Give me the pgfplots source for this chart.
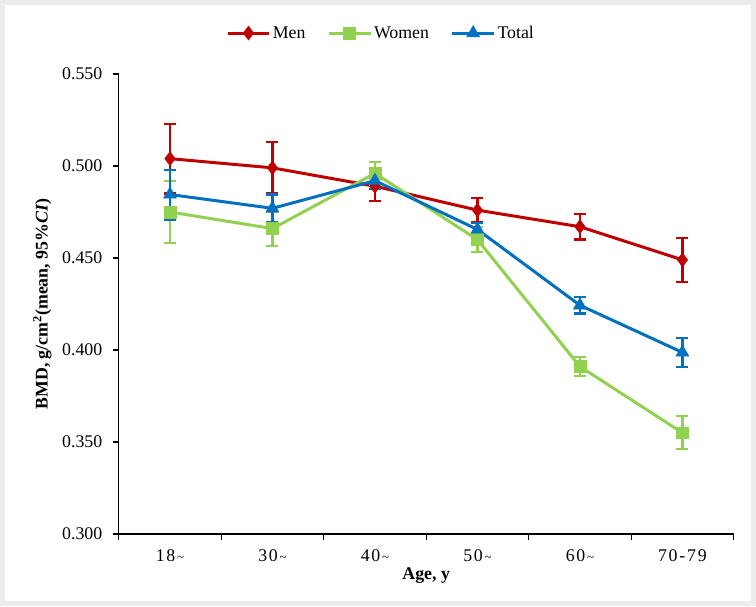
\documentclass[border=0pt]{standalone}
\usepackage{pgfplots}
\pgfplotsset{compat=1.18}
\usepackage{fontspec}
\setmainfont{Liberation Serif}
\definecolor{cmen}{HTML}{C00000}
\definecolor{cwomen}{HTML}{92D050}
\definecolor{ctotal}{HTML}{0070C0}
\newcommand{\sg}{\kern1.8pt}
\newcommand{\tld}{{\fontsize{13}{13}\selectfont\textasciitilde}}
\begin{document}
\begin{tikzpicture}
\begin{axis}[name=ax, scale only axis, width=619bp, height=463bp,
  xmin=-0.5, xmax=5.5, ymin=0.3, ymax=0.55,
  axis x line*=bottom, axis y line*=left,
  axis line style={-, line width=1.2bp},
  xtick={0,...,5},
  xticklabels={1\sg8\sg\tld, 3\sg0\sg\tld, 4\sg0\sg\tld, 5\sg0\sg\tld, 6\sg0\sg\tld, 7\sg0\sg-\sg7\sg9},
  minor xtick={-0.5,0.5,...,5.5},
  ytick={0.3,0.35,0.4,0.45,0.5,0.55},
  y tick label style={/pgf/number format/.cd, fixed, fixed zerofill, precision=3, /tikz/.cd, xshift=-7bp},
  x tick label style={yshift=-6bp},
  /pgf/number format/assume math mode=true,
  tick align=outside, major tick length=6bp, minor tick length=6bp,
  tick style={black, line width=1.2bp},
  major x tick style={draw=none},
  tick label style={font=\fontsize{18}{21}\selectfont},
  label style={font=\bfseries\fontsize{18}{21}\selectfont},
  xlabel={Age, y},
  ylabel={BMD, g/cm\textsuperscript{2}(mean, 95\%\textit{CI})},
  ylabel style={yshift=4bp},
  legend style={at={(0.4265,1.089)}, anchor=center, legend columns=3, draw=none,
    font=\fontsize{18}{21}\selectfont,
    /tikz/every even column/.append style={column sep=20bp}},
  legend image code/.code={\draw[mark repeat=2,mark phase=2] plot coordinates {(0bp,0bp)(21bp,0bp)(42bp,0bp)};},
  every axis plot/.append style={line width=3bp},
  error bars/error bar style={line width=2.3bp},
  error bars/error mark options={rotate=90, mark size=6bp, line width=2.3bp},
]
\addplot[color=cmen, mark=diamond*, mark size=7bp, mark options={fill=cmen, line width=0.5bp},
  error bars/.cd, y dir=both, y explicit] coordinates {
  (0,0.504) +- (0,0.019)
  (1,0.499) +- (0,0.014)
  (2,0.489) +- (0,0.008)
  (3,0.476) +- (0,0.0065)
  (4,0.467) +- (0,0.007)
  (5,0.449) +- (0,0.012)
};
\addlegendentry{Men}
\addplot[color=cwomen, mark=square*, mark size=6bp, mark options={fill=cwomen, line width=0.5bp},
  error bars/.cd, y dir=both, y explicit] coordinates {
  (0,0.475) +- (0,0.017)
  (1,0.466) +- (0,0.0093)
  (2,0.496) +- (0,0.006)
  (3,0.460) +- (0,0.0067)
  (4,0.391) +- (0,0.005)
  (5,0.355) +- (0,0.009)
};
\addlegendentry{Women}
\addplot[color=ctotal, mark=triangle*, mark size=7.5bp, mark options={fill=ctotal, line width=0.5bp},
  error bars/.cd, y dir=both, y explicit] coordinates {
  (0,0.4845) +- (0,0.0135)
  (1,0.477) +- (0,0.0075)
  (2,0.492) +- (0,0.0045)
  (3,0.4655) +- (0,0.0035)
  (4,0.4243) +- (0,0.0045)
  (5,0.3987) +- (0,0.008)
};
\addlegendentry{Total}
\end{axis}
\draw[gray!15, line width=5bp] ([shift={(-117bp,-70bp)}]ax.south west) rectangle ([shift={(20bp,72bp)}]ax.north east);
\end{tikzpicture}
\end{document}
